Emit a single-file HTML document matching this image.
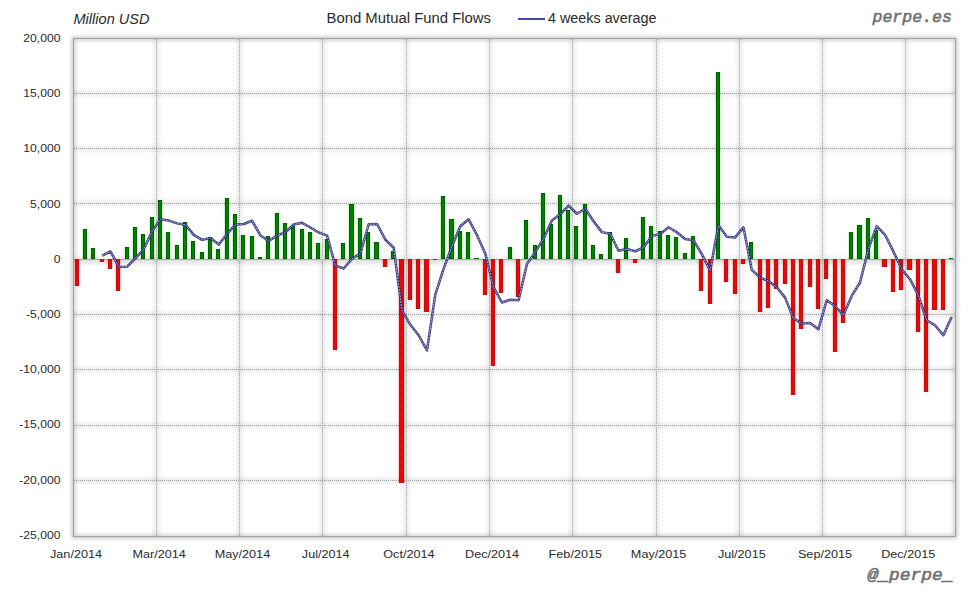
<!DOCTYPE html>
<html><head><meta charset="utf-8"><style>
html,body{margin:0;padding:0;background:#fff;width:980px;height:600px;overflow:hidden}
svg{display:block}
.ax{font-family:"Liberation Sans",sans-serif;font-size:11.5px;fill:#2a2a2a}
.go{fill:#006000}
.gi{fill:#038003}
.gh{fill:#00c000;fill-opacity:0.13}
.gh2{fill:#00c000;fill-opacity:0.04}
.rh{fill:#ff0000;fill-opacity:0.13}
.rh2{fill:#ff0000;fill-opacity:0.05}
.ro{fill:#c01010}
.ri{fill:#ee0606}
.gd{stroke:#a2a2a2;stroke-width:1;stroke-dasharray:1 1}
.t{font-family:"Liberation Sans",sans-serif;font-size:14px;fill:#2a2a2a}
.wm{font-family:"Liberation Mono",monospace;font-style:italic;font-size:16.5px;fill:#707070;stroke:#707070;stroke-width:0.55}
</style></head><body>
<svg width="980" height="600" viewBox="0 0 980 600">
<defs>
<linearGradient id="hg" x1="0" y1="0" x2="0" y2="1"><stop offset="0" stop-color="#000" stop-opacity="0"/><stop offset="0.5" stop-color="#000" stop-opacity="0.075"/><stop offset="1" stop-color="#000" stop-opacity="0"/></linearGradient>
<linearGradient id="vg" x1="0" y1="0" x2="1" y2="0"><stop offset="0" stop-color="#000" stop-opacity="0"/><stop offset="0.5" stop-color="#000" stop-opacity="0.075"/><stop offset="1" stop-color="#000" stop-opacity="0"/></linearGradient>
<linearGradient id="zu" x1="0" y1="0" x2="0" y2="1"><stop offset="0" stop-color="#000" stop-opacity="0"/><stop offset="1" stop-color="#000" stop-opacity="0.06"/></linearGradient><linearGradient id="zd" x1="0" y1="0" x2="0" y2="1"><stop offset="0" stop-color="#000" stop-opacity="0.13"/><stop offset="1" stop-color="#000" stop-opacity="0"/></linearGradient>
<clipPath id="pc"><rect x="74" y="39" width="881" height="497"/></clipPath>
<filter id="sh" x="-5%" y="-5%" width="110%" height="110%"><feGaussianBlur stdDeviation="2.2"/></filter>
</defs>
<rect x="73.5" y="38.5" width="882" height="498" fill="none" stroke="#000" stroke-opacity="0.3" stroke-width="3" filter="url(#sh)"/>
<rect x="73" y="38" width="883" height="499" fill="#fff"/>
<rect x="73.5" y="38.5" width="882" height="498" fill="none" stroke="#000" stroke-opacity="0.25" stroke-width="3" filter="url(#sh)" clip-path="url(#pc)"/>
<rect x="74" y="88" width="881" height="11" fill="url(#hg)"/><rect x="74" y="143" width="881" height="11" fill="url(#hg)"/><rect x="74" y="198" width="881" height="11" fill="url(#hg)"/><rect x="74" y="309" width="881" height="11" fill="url(#hg)"/><rect x="74" y="364" width="881" height="11" fill="url(#hg)"/><rect x="74" y="420" width="881" height="11" fill="url(#hg)"/><rect x="74" y="475" width="881" height="11" fill="url(#hg)"/><rect x="151" y="39" width="11" height="497" fill="url(#vg)"/><rect x="234" y="39" width="11" height="497" fill="url(#vg)"/><rect x="317" y="39" width="11" height="497" fill="url(#vg)"/><rect x="401" y="39" width="11" height="497" fill="url(#vg)"/><rect x="484" y="39" width="11" height="497" fill="url(#vg)"/><rect x="567" y="39" width="11" height="497" fill="url(#vg)"/><rect x="651" y="39" width="11" height="497" fill="url(#vg)"/><rect x="734" y="39" width="11" height="497" fill="url(#vg)"/><rect x="817" y="39" width="11" height="497" fill="url(#vg)"/><rect x="900" y="39" width="11" height="497" fill="url(#vg)"/><rect x="74" y="253" width="881" height="6" fill="url(#zu)"/><rect x="74" y="260" width="881" height="7" fill="url(#zd)"/>
<line x1="74" y1="93.5" x2="927" y2="93.5" class="gd"/><line x1="927" y1="93.5" x2="955" y2="93.5" stroke="#c4c4c4" stroke-width="1"/><line x1="74" y1="148.5" x2="927" y2="148.5" class="gd"/><line x1="927" y1="148.5" x2="955" y2="148.5" stroke="#c4c4c4" stroke-width="1"/><line x1="74" y1="203.5" x2="927" y2="203.5" class="gd"/><line x1="927" y1="203.5" x2="955" y2="203.5" stroke="#c4c4c4" stroke-width="1"/><line x1="74" y1="314.5" x2="927" y2="314.5" class="gd"/><line x1="927" y1="314.5" x2="955" y2="314.5" stroke="#c4c4c4" stroke-width="1"/><line x1="74" y1="369.5" x2="927" y2="369.5" class="gd"/><line x1="927" y1="369.5" x2="955" y2="369.5" stroke="#c4c4c4" stroke-width="1"/><line x1="74" y1="425.5" x2="927" y2="425.5" class="gd"/><line x1="927" y1="425.5" x2="955" y2="425.5" stroke="#c4c4c4" stroke-width="1"/><line x1="74" y1="480.5" x2="927" y2="480.5" class="gd"/><line x1="927" y1="480.5" x2="955" y2="480.5" stroke="#c4c4c4" stroke-width="1"/><line x1="156.5" y1="39" x2="156.5" y2="536" class="gd"/><line x1="239.5" y1="39" x2="239.5" y2="536" class="gd"/><line x1="322.5" y1="39" x2="322.5" y2="536" class="gd"/><line x1="406.5" y1="39" x2="406.5" y2="536" class="gd"/><line x1="489.5" y1="39" x2="489.5" y2="536" class="gd"/><line x1="572.5" y1="39" x2="572.5" y2="536" class="gd"/><line x1="656.5" y1="39" x2="656.5" y2="536" class="gd"/><line x1="739.5" y1="39" x2="739.5" y2="536" class="gd"/><line x1="822.5" y1="39" x2="822.5" y2="536" class="gd"/><line x1="905.5" y1="39" x2="905.5" y2="536" class="gd"/>
<line x1="74" y1="259.5" x2="955" y2="259.5" stroke="#aaa" stroke-width="1"/>
<rect x="73" y="259" width="8" height="27" class="rh2"/><rect x="74" y="259" width="6" height="27" class="rh"/><rect x="81" y="229" width="8" height="30" class="gh2"/><rect x="82" y="229" width="6" height="30" class="gh"/><rect x="89" y="248" width="8" height="11" class="gh2"/><rect x="90" y="248" width="6" height="11" class="gh"/><rect x="98" y="259" width="8" height="3" class="rh2"/><rect x="99" y="259" width="6" height="3" class="rh"/><rect x="106" y="259" width="8" height="10" class="rh2"/><rect x="107" y="259" width="6" height="10" class="rh"/><rect x="114" y="259" width="8" height="32" class="rh2"/><rect x="115" y="259" width="6" height="32" class="rh"/><rect x="123" y="247" width="8" height="12" class="gh2"/><rect x="124" y="247" width="6" height="12" class="gh"/><rect x="131" y="227" width="8" height="32" class="gh2"/><rect x="132" y="227" width="6" height="32" class="gh"/><rect x="139" y="234" width="8" height="25" class="gh2"/><rect x="140" y="234" width="6" height="25" class="gh"/><rect x="148" y="217" width="8" height="42" class="gh2"/><rect x="149" y="217" width="6" height="42" class="gh"/><rect x="156" y="200" width="8" height="59" class="gh2"/><rect x="157" y="200" width="6" height="59" class="gh"/><rect x="164" y="232" width="8" height="27" class="gh2"/><rect x="165" y="232" width="6" height="27" class="gh"/><rect x="173" y="245" width="8" height="14" class="gh2"/><rect x="174" y="245" width="6" height="14" class="gh"/><rect x="181" y="222" width="8" height="37" class="gh2"/><rect x="182" y="222" width="6" height="37" class="gh"/><rect x="189" y="241" width="8" height="18" class="gh2"/><rect x="190" y="241" width="6" height="18" class="gh"/><rect x="198" y="252" width="8" height="7" class="gh2"/><rect x="199" y="252" width="6" height="7" class="gh"/><rect x="206" y="237" width="8" height="22" class="gh2"/><rect x="207" y="237" width="6" height="22" class="gh"/><rect x="214" y="249" width="8" height="10" class="gh2"/><rect x="215" y="249" width="6" height="10" class="gh"/><rect x="223" y="198" width="8" height="61" class="gh2"/><rect x="224" y="198" width="6" height="61" class="gh"/><rect x="231" y="214" width="8" height="45" class="gh2"/><rect x="232" y="214" width="6" height="45" class="gh"/><rect x="239" y="235" width="8" height="24" class="gh2"/><rect x="240" y="235" width="6" height="24" class="gh"/><rect x="248" y="236" width="8" height="23" class="gh2"/><rect x="249" y="236" width="6" height="23" class="gh"/><rect x="256" y="257" width="8" height="2" class="gh2"/><rect x="257" y="257" width="6" height="2" class="gh"/><rect x="264" y="236" width="8" height="23" class="gh2"/><rect x="265" y="236" width="6" height="23" class="gh"/><rect x="273" y="213" width="8" height="46" class="gh2"/><rect x="274" y="213" width="6" height="46" class="gh"/><rect x="281" y="223" width="8" height="36" class="gh2"/><rect x="282" y="223" width="6" height="36" class="gh"/><rect x="289" y="226" width="8" height="33" class="gh2"/><rect x="290" y="226" width="6" height="33" class="gh"/><rect x="298" y="229" width="8" height="30" class="gh2"/><rect x="299" y="229" width="6" height="30" class="gh"/><rect x="306" y="232" width="8" height="27" class="gh2"/><rect x="307" y="232" width="6" height="27" class="gh"/><rect x="314" y="243" width="8" height="16" class="gh2"/><rect x="315" y="243" width="6" height="16" class="gh"/><rect x="323" y="239" width="8" height="20" class="gh2"/><rect x="324" y="239" width="6" height="20" class="gh"/><rect x="331" y="259" width="8" height="91" class="rh2"/><rect x="332" y="259" width="6" height="91" class="rh"/><rect x="339" y="243" width="8" height="16" class="gh2"/><rect x="340" y="243" width="6" height="16" class="gh"/><rect x="347" y="204" width="9" height="55" class="gh2"/><rect x="348" y="204" width="7" height="55" class="gh"/><rect x="356" y="218" width="8" height="41" class="gh2"/><rect x="357" y="218" width="6" height="41" class="gh"/><rect x="364" y="232" width="8" height="27" class="gh2"/><rect x="365" y="232" width="6" height="27" class="gh"/><rect x="372" y="242" width="9" height="17" class="gh2"/><rect x="373" y="242" width="7" height="17" class="gh"/><rect x="381" y="259" width="8" height="8" class="rh2"/><rect x="382" y="259" width="6" height="8" class="rh"/><rect x="389" y="251" width="8" height="8" class="gh2"/><rect x="390" y="251" width="6" height="8" class="gh"/><rect x="397" y="259" width="9" height="224" class="rh2"/><rect x="398" y="259" width="7" height="224" class="rh"/><rect x="406" y="259" width="8" height="41" class="rh2"/><rect x="407" y="259" width="6" height="41" class="rh"/><rect x="414" y="259" width="8" height="50" class="rh2"/><rect x="415" y="259" width="6" height="50" class="rh"/><rect x="422" y="259" width="9" height="53" class="rh2"/><rect x="423" y="259" width="7" height="53" class="rh"/><rect x="431" y="259" width="8" height="1" class="rh2"/><rect x="432" y="259" width="6" height="1" class="rh"/><rect x="439" y="196" width="8" height="63" class="gh2"/><rect x="440" y="196" width="6" height="63" class="gh"/><rect x="447" y="219" width="9" height="40" class="gh2"/><rect x="448" y="219" width="7" height="40" class="gh"/><rect x="456" y="231" width="8" height="28" class="gh2"/><rect x="457" y="231" width="6" height="28" class="gh"/><rect x="464" y="232" width="8" height="27" class="gh2"/><rect x="465" y="232" width="6" height="27" class="gh"/><rect x="472" y="258" width="9" height="1" class="gh2"/><rect x="473" y="258" width="7" height="1" class="gh"/><rect x="481" y="259" width="8" height="36" class="rh2"/><rect x="482" y="259" width="6" height="36" class="rh"/><rect x="489" y="259" width="8" height="107" class="rh2"/><rect x="490" y="259" width="6" height="107" class="rh"/><rect x="497" y="259" width="8" height="34" class="rh2"/><rect x="498" y="259" width="6" height="34" class="rh"/><rect x="506" y="247" width="8" height="12" class="gh2"/><rect x="507" y="247" width="6" height="12" class="gh"/><rect x="514" y="259" width="8" height="38" class="rh2"/><rect x="515" y="259" width="6" height="38" class="rh"/><rect x="522" y="220" width="8" height="39" class="gh2"/><rect x="523" y="220" width="6" height="39" class="gh"/><rect x="531" y="245" width="8" height="14" class="gh2"/><rect x="532" y="245" width="6" height="14" class="gh"/><rect x="539" y="193" width="8" height="66" class="gh2"/><rect x="540" y="193" width="6" height="66" class="gh"/><rect x="547" y="224" width="8" height="35" class="gh2"/><rect x="548" y="224" width="6" height="35" class="gh"/><rect x="556" y="195" width="8" height="64" class="gh2"/><rect x="557" y="195" width="6" height="64" class="gh"/><rect x="564" y="210" width="8" height="49" class="gh2"/><rect x="565" y="210" width="6" height="49" class="gh"/><rect x="572" y="226" width="8" height="33" class="gh2"/><rect x="573" y="226" width="6" height="33" class="gh"/><rect x="581" y="204" width="8" height="55" class="gh2"/><rect x="582" y="204" width="6" height="55" class="gh"/><rect x="589" y="245" width="8" height="14" class="gh2"/><rect x="590" y="245" width="6" height="14" class="gh"/><rect x="597" y="254" width="8" height="5" class="gh2"/><rect x="598" y="254" width="6" height="5" class="gh"/><rect x="606" y="232" width="8" height="27" class="gh2"/><rect x="607" y="232" width="6" height="27" class="gh"/><rect x="614" y="259" width="8" height="14" class="rh2"/><rect x="615" y="259" width="6" height="14" class="rh"/><rect x="622" y="238" width="8" height="21" class="gh2"/><rect x="623" y="238" width="6" height="21" class="gh"/><rect x="631" y="259" width="8" height="4" class="rh2"/><rect x="632" y="259" width="6" height="4" class="rh"/><rect x="639" y="217" width="8" height="42" class="gh2"/><rect x="640" y="217" width="6" height="42" class="gh"/><rect x="647" y="226" width="8" height="33" class="gh2"/><rect x="648" y="226" width="6" height="33" class="gh"/><rect x="656" y="231" width="8" height="28" class="gh2"/><rect x="657" y="231" width="6" height="28" class="gh"/><rect x="664" y="235" width="8" height="24" class="gh2"/><rect x="665" y="235" width="6" height="24" class="gh"/><rect x="672" y="237" width="8" height="22" class="gh2"/><rect x="673" y="237" width="6" height="22" class="gh"/><rect x="681" y="253" width="8" height="6" class="gh2"/><rect x="682" y="253" width="6" height="6" class="gh"/><rect x="689" y="236" width="8" height="23" class="gh2"/><rect x="690" y="236" width="6" height="23" class="gh"/><rect x="697" y="259" width="8" height="32" class="rh2"/><rect x="698" y="259" width="6" height="32" class="rh"/><rect x="706" y="259" width="8" height="45" class="rh2"/><rect x="707" y="259" width="6" height="45" class="rh"/><rect x="714" y="72" width="8" height="187" class="gh2"/><rect x="715" y="72" width="6" height="187" class="gh"/><rect x="722" y="259" width="8" height="23" class="rh2"/><rect x="723" y="259" width="6" height="23" class="rh"/><rect x="731" y="259" width="8" height="35" class="rh2"/><rect x="732" y="259" width="6" height="35" class="rh"/><rect x="739" y="259" width="8" height="5" class="rh2"/><rect x="740" y="259" width="6" height="5" class="rh"/><rect x="747" y="242" width="8" height="17" class="gh2"/><rect x="748" y="242" width="6" height="17" class="gh"/><rect x="756" y="259" width="8" height="53" class="rh2"/><rect x="757" y="259" width="6" height="53" class="rh"/><rect x="764" y="259" width="8" height="49" class="rh2"/><rect x="765" y="259" width="6" height="49" class="rh"/><rect x="772" y="259" width="8" height="30" class="rh2"/><rect x="773" y="259" width="6" height="30" class="rh"/><rect x="781" y="259" width="8" height="25" class="rh2"/><rect x="782" y="259" width="6" height="25" class="rh"/><rect x="789" y="259" width="8" height="136" class="rh2"/><rect x="790" y="259" width="6" height="136" class="rh"/><rect x="797" y="259" width="8" height="70" class="rh2"/><rect x="798" y="259" width="6" height="70" class="rh"/><rect x="806" y="259" width="8" height="28" class="rh2"/><rect x="807" y="259" width="6" height="28" class="rh"/><rect x="814" y="259" width="8" height="50" class="rh2"/><rect x="815" y="259" width="6" height="50" class="rh"/><rect x="822" y="259" width="8" height="20" class="rh2"/><rect x="823" y="259" width="6" height="20" class="rh"/><rect x="831" y="259" width="8" height="93" class="rh2"/><rect x="832" y="259" width="6" height="93" class="rh"/><rect x="839" y="259" width="8" height="64" class="rh2"/><rect x="840" y="259" width="6" height="64" class="rh"/><rect x="847" y="232" width="8" height="27" class="gh2"/><rect x="848" y="232" width="6" height="27" class="gh"/><rect x="855" y="225" width="9" height="34" class="gh2"/><rect x="856" y="225" width="7" height="34" class="gh"/><rect x="864" y="218" width="8" height="41" class="gh2"/><rect x="865" y="218" width="6" height="41" class="gh"/><rect x="872" y="230" width="8" height="29" class="gh2"/><rect x="873" y="230" width="6" height="29" class="gh"/><rect x="880" y="259" width="9" height="8" class="rh2"/><rect x="881" y="259" width="7" height="8" class="rh"/><rect x="889" y="259" width="8" height="33" class="rh2"/><rect x="890" y="259" width="6" height="33" class="rh"/><rect x="897" y="259" width="8" height="31" class="rh2"/><rect x="898" y="259" width="6" height="31" class="rh"/><rect x="905" y="259" width="9" height="11" class="rh2"/><rect x="906" y="259" width="7" height="11" class="rh"/><rect x="914" y="259" width="8" height="73" class="rh2"/><rect x="915" y="259" width="6" height="73" class="rh"/><rect x="922" y="259" width="8" height="133" class="rh2"/><rect x="923" y="259" width="6" height="133" class="rh"/><rect x="930" y="259" width="9" height="51" class="rh2"/><rect x="931" y="259" width="7" height="51" class="rh"/><rect x="939" y="259" width="8" height="51" class="rh2"/><rect x="940" y="259" width="6" height="51" class="rh"/><rect x="947" y="258" width="8" height="1" class="gh2"/><rect x="948" y="258" width="6" height="1" class="gh"/>
<rect x="75" y="259" width="4" height="27" class="ro"/><rect x="76" y="260" width="2" height="25" class="ri"/><rect x="83" y="229" width="4" height="30" class="go"/><rect x="84" y="230" width="2" height="28" class="gi"/><rect x="91" y="248" width="4" height="11" class="go"/><rect x="92" y="249" width="2" height="9" class="gi"/><rect x="100" y="259" width="4" height="3" class="ro"/><rect x="101" y="260" width="2" height="1" class="ri"/><rect x="108" y="259" width="4" height="10" class="ro"/><rect x="109" y="260" width="2" height="8" class="ri"/><rect x="116" y="259" width="4" height="32" class="ro"/><rect x="117" y="260" width="2" height="30" class="ri"/><rect x="125" y="247" width="4" height="12" class="go"/><rect x="126" y="248" width="2" height="10" class="gi"/><rect x="133" y="227" width="4" height="32" class="go"/><rect x="134" y="228" width="2" height="30" class="gi"/><rect x="141" y="234" width="4" height="25" class="go"/><rect x="142" y="235" width="2" height="23" class="gi"/><rect x="150" y="217" width="4" height="42" class="go"/><rect x="151" y="218" width="2" height="40" class="gi"/><rect x="158" y="200" width="4" height="59" class="go"/><rect x="159" y="201" width="2" height="57" class="gi"/><rect x="166" y="232" width="4" height="27" class="go"/><rect x="167" y="233" width="2" height="25" class="gi"/><rect x="175" y="245" width="4" height="14" class="go"/><rect x="176" y="246" width="2" height="12" class="gi"/><rect x="183" y="222" width="4" height="37" class="go"/><rect x="184" y="223" width="2" height="35" class="gi"/><rect x="191" y="241" width="4" height="18" class="go"/><rect x="192" y="242" width="2" height="16" class="gi"/><rect x="200" y="252" width="4" height="7" class="go"/><rect x="201" y="253" width="2" height="5" class="gi"/><rect x="208" y="237" width="4" height="22" class="go"/><rect x="209" y="238" width="2" height="20" class="gi"/><rect x="216" y="249" width="4" height="10" class="go"/><rect x="217" y="250" width="2" height="8" class="gi"/><rect x="225" y="198" width="4" height="61" class="go"/><rect x="226" y="199" width="2" height="59" class="gi"/><rect x="233" y="214" width="4" height="45" class="go"/><rect x="234" y="215" width="2" height="43" class="gi"/><rect x="241" y="235" width="4" height="24" class="go"/><rect x="242" y="236" width="2" height="22" class="gi"/><rect x="250" y="236" width="4" height="23" class="go"/><rect x="251" y="237" width="2" height="21" class="gi"/><rect x="258" y="257" width="4" height="2" class="go"/><rect x="266" y="236" width="4" height="23" class="go"/><rect x="267" y="237" width="2" height="21" class="gi"/><rect x="275" y="213" width="4" height="46" class="go"/><rect x="276" y="214" width="2" height="44" class="gi"/><rect x="283" y="223" width="4" height="36" class="go"/><rect x="284" y="224" width="2" height="34" class="gi"/><rect x="291" y="226" width="4" height="33" class="go"/><rect x="292" y="227" width="2" height="31" class="gi"/><rect x="300" y="229" width="4" height="30" class="go"/><rect x="301" y="230" width="2" height="28" class="gi"/><rect x="308" y="232" width="4" height="27" class="go"/><rect x="309" y="233" width="2" height="25" class="gi"/><rect x="316" y="243" width="4" height="16" class="go"/><rect x="317" y="244" width="2" height="14" class="gi"/><rect x="325" y="239" width="4" height="20" class="go"/><rect x="326" y="240" width="2" height="18" class="gi"/><rect x="333" y="259" width="4" height="91" class="ro"/><rect x="334" y="260" width="2" height="89" class="ri"/><rect x="341" y="243" width="4" height="16" class="go"/><rect x="342" y="244" width="2" height="14" class="gi"/><rect x="349" y="204" width="5" height="55" class="go"/><rect x="350" y="205" width="3" height="53" class="gi"/><rect x="358" y="218" width="4" height="41" class="go"/><rect x="359" y="219" width="2" height="39" class="gi"/><rect x="366" y="232" width="4" height="27" class="go"/><rect x="367" y="233" width="2" height="25" class="gi"/><rect x="374" y="242" width="5" height="17" class="go"/><rect x="375" y="243" width="3" height="15" class="gi"/><rect x="383" y="259" width="4" height="8" class="ro"/><rect x="384" y="260" width="2" height="6" class="ri"/><rect x="391" y="251" width="4" height="8" class="go"/><rect x="392" y="252" width="2" height="6" class="gi"/><rect x="399" y="259" width="5" height="224" class="ro"/><rect x="400" y="260" width="3" height="222" class="ri"/><rect x="408" y="259" width="4" height="41" class="ro"/><rect x="409" y="260" width="2" height="39" class="ri"/><rect x="416" y="259" width="4" height="50" class="ro"/><rect x="417" y="260" width="2" height="48" class="ri"/><rect x="424" y="259" width="5" height="53" class="ro"/><rect x="425" y="260" width="3" height="51" class="ri"/><rect x="433" y="259" width="4" height="1" class="ro"/><rect x="441" y="196" width="4" height="63" class="go"/><rect x="442" y="197" width="2" height="61" class="gi"/><rect x="449" y="219" width="5" height="40" class="go"/><rect x="450" y="220" width="3" height="38" class="gi"/><rect x="458" y="231" width="4" height="28" class="go"/><rect x="459" y="232" width="2" height="26" class="gi"/><rect x="466" y="232" width="4" height="27" class="go"/><rect x="467" y="233" width="2" height="25" class="gi"/><rect x="474" y="258" width="5" height="1" class="go"/><rect x="483" y="259" width="4" height="36" class="ro"/><rect x="484" y="260" width="2" height="34" class="ri"/><rect x="491" y="259" width="4" height="107" class="ro"/><rect x="492" y="260" width="2" height="105" class="ri"/><rect x="499" y="259" width="4" height="34" class="ro"/><rect x="500" y="260" width="2" height="32" class="ri"/><rect x="508" y="247" width="4" height="12" class="go"/><rect x="509" y="248" width="2" height="10" class="gi"/><rect x="516" y="259" width="4" height="38" class="ro"/><rect x="517" y="260" width="2" height="36" class="ri"/><rect x="524" y="220" width="4" height="39" class="go"/><rect x="525" y="221" width="2" height="37" class="gi"/><rect x="533" y="245" width="4" height="14" class="go"/><rect x="534" y="246" width="2" height="12" class="gi"/><rect x="541" y="193" width="4" height="66" class="go"/><rect x="542" y="194" width="2" height="64" class="gi"/><rect x="549" y="224" width="4" height="35" class="go"/><rect x="550" y="225" width="2" height="33" class="gi"/><rect x="558" y="195" width="4" height="64" class="go"/><rect x="559" y="196" width="2" height="62" class="gi"/><rect x="566" y="210" width="4" height="49" class="go"/><rect x="567" y="211" width="2" height="47" class="gi"/><rect x="574" y="226" width="4" height="33" class="go"/><rect x="575" y="227" width="2" height="31" class="gi"/><rect x="583" y="204" width="4" height="55" class="go"/><rect x="584" y="205" width="2" height="53" class="gi"/><rect x="591" y="245" width="4" height="14" class="go"/><rect x="592" y="246" width="2" height="12" class="gi"/><rect x="599" y="254" width="4" height="5" class="go"/><rect x="600" y="255" width="2" height="3" class="gi"/><rect x="608" y="232" width="4" height="27" class="go"/><rect x="609" y="233" width="2" height="25" class="gi"/><rect x="616" y="259" width="4" height="14" class="ro"/><rect x="617" y="260" width="2" height="12" class="ri"/><rect x="624" y="238" width="4" height="21" class="go"/><rect x="625" y="239" width="2" height="19" class="gi"/><rect x="633" y="259" width="4" height="4" class="ro"/><rect x="634" y="260" width="2" height="2" class="ri"/><rect x="641" y="217" width="4" height="42" class="go"/><rect x="642" y="218" width="2" height="40" class="gi"/><rect x="649" y="226" width="4" height="33" class="go"/><rect x="650" y="227" width="2" height="31" class="gi"/><rect x="658" y="231" width="4" height="28" class="go"/><rect x="659" y="232" width="2" height="26" class="gi"/><rect x="666" y="235" width="4" height="24" class="go"/><rect x="667" y="236" width="2" height="22" class="gi"/><rect x="674" y="237" width="4" height="22" class="go"/><rect x="675" y="238" width="2" height="20" class="gi"/><rect x="683" y="253" width="4" height="6" class="go"/><rect x="684" y="254" width="2" height="4" class="gi"/><rect x="691" y="236" width="4" height="23" class="go"/><rect x="692" y="237" width="2" height="21" class="gi"/><rect x="699" y="259" width="4" height="32" class="ro"/><rect x="700" y="260" width="2" height="30" class="ri"/><rect x="708" y="259" width="4" height="45" class="ro"/><rect x="709" y="260" width="2" height="43" class="ri"/><rect x="716" y="72" width="4" height="187" class="go"/><rect x="717" y="73" width="2" height="185" class="gi"/><rect x="724" y="259" width="4" height="23" class="ro"/><rect x="725" y="260" width="2" height="21" class="ri"/><rect x="733" y="259" width="4" height="35" class="ro"/><rect x="734" y="260" width="2" height="33" class="ri"/><rect x="741" y="259" width="4" height="5" class="ro"/><rect x="742" y="260" width="2" height="3" class="ri"/><rect x="749" y="242" width="4" height="17" class="go"/><rect x="750" y="243" width="2" height="15" class="gi"/><rect x="758" y="259" width="4" height="53" class="ro"/><rect x="759" y="260" width="2" height="51" class="ri"/><rect x="766" y="259" width="4" height="49" class="ro"/><rect x="767" y="260" width="2" height="47" class="ri"/><rect x="774" y="259" width="4" height="30" class="ro"/><rect x="775" y="260" width="2" height="28" class="ri"/><rect x="783" y="259" width="4" height="25" class="ro"/><rect x="784" y="260" width="2" height="23" class="ri"/><rect x="791" y="259" width="4" height="136" class="ro"/><rect x="792" y="260" width="2" height="134" class="ri"/><rect x="799" y="259" width="4" height="70" class="ro"/><rect x="800" y="260" width="2" height="68" class="ri"/><rect x="808" y="259" width="4" height="28" class="ro"/><rect x="809" y="260" width="2" height="26" class="ri"/><rect x="816" y="259" width="4" height="50" class="ro"/><rect x="817" y="260" width="2" height="48" class="ri"/><rect x="824" y="259" width="4" height="20" class="ro"/><rect x="825" y="260" width="2" height="18" class="ri"/><rect x="833" y="259" width="4" height="93" class="ro"/><rect x="834" y="260" width="2" height="91" class="ri"/><rect x="841" y="259" width="4" height="64" class="ro"/><rect x="842" y="260" width="2" height="62" class="ri"/><rect x="849" y="232" width="4" height="27" class="go"/><rect x="850" y="233" width="2" height="25" class="gi"/><rect x="857" y="225" width="5" height="34" class="go"/><rect x="858" y="226" width="3" height="32" class="gi"/><rect x="866" y="218" width="4" height="41" class="go"/><rect x="867" y="219" width="2" height="39" class="gi"/><rect x="874" y="230" width="4" height="29" class="go"/><rect x="875" y="231" width="2" height="27" class="gi"/><rect x="882" y="259" width="5" height="8" class="ro"/><rect x="883" y="260" width="3" height="6" class="ri"/><rect x="891" y="259" width="4" height="33" class="ro"/><rect x="892" y="260" width="2" height="31" class="ri"/><rect x="899" y="259" width="4" height="31" class="ro"/><rect x="900" y="260" width="2" height="29" class="ri"/><rect x="907" y="259" width="5" height="11" class="ro"/><rect x="908" y="260" width="3" height="9" class="ri"/><rect x="916" y="259" width="4" height="73" class="ro"/><rect x="917" y="260" width="2" height="71" class="ri"/><rect x="924" y="259" width="4" height="133" class="ro"/><rect x="925" y="260" width="2" height="131" class="ri"/><rect x="932" y="259" width="5" height="51" class="ro"/><rect x="933" y="260" width="3" height="49" class="ri"/><rect x="941" y="259" width="4" height="51" class="ro"/><rect x="942" y="260" width="2" height="49" class="ri"/><rect x="949" y="258" width="4" height="1" class="go"/>
<path d="M102.19,255.67 C102.19,255.67 110.52,251.45 110.52,251.45 C110.52,251.45 118.85,266.95 118.85,266.95 C118.85,266.95 127.18,266.70 127.18,266.70 C127.18,266.70 135.51,258.07 135.51,258.07 C135.51,258.07 143.83,249.34 143.83,249.34 C143.83,249.34 152.16,230.91 152.16,230.91 C152.16,230.91 160.49,219.29 160.49,219.29 C160.49,219.29 168.82,220.59 168.82,220.59 C168.82,220.59 177.15,223.39 177.15,223.39 C177.15,223.39 185.47,224.70 185.47,224.70 C185.47,224.70 193.80,234.90 193.80,234.90 C193.80,234.90 202.13,239.87 202.13,239.87 C202.13,239.87 210.46,237.92 210.46,237.92 C210.46,237.92 218.79,244.60 218.79,244.60 C218.79,244.60 227.11,233.92 227.11,233.92 C227.11,233.92 235.44,224.49 235.44,224.49 C235.44,224.49 243.77,223.99 243.77,223.99 C243.77,223.99 252.10,220.78 252.10,220.78 C252.10,220.78 260.43,235.44 260.43,235.44 C260.43,235.44 268.75,240.90 268.75,240.90 C268.75,240.90 277.08,235.44 277.08,235.44 C277.08,235.44 285.41,232.23 285.41,232.23 C285.41,232.23 293.74,224.52 293.74,224.52 C293.74,224.52 302.07,222.80 302.07,222.80 C302.07,222.80 310.39,227.50 310.39,227.50 C310.39,227.50 318.72,232.46 318.72,232.46 C318.72,232.46 327.05,235.70 327.05,235.70 C327.05,235.70 335.38,265.75 335.38,265.75 C335.38,265.75 343.71,268.50 343.71,268.50 C343.71,268.50 352.03,258.80 352.03,258.80 C352.03,258.80 360.36,253.57 360.36,253.57 C360.36,253.57 368.69,224.25 368.69,224.25 C368.69,224.25 377.02,223.99 377.02,223.99 C377.02,223.99 385.35,239.54 385.35,239.54 C385.35,239.54 393.67,247.75 393.67,247.75 C393.67,247.75 402.00,310.31 402.00,310.31 C402.00,310.31 410.33,324.75 410.33,324.75 C410.33,324.75 418.66,335.23 418.66,335.23 C418.66,335.23 426.99,350.40 426.99,350.40 C426.99,350.40 435.31,294.69 435.31,294.69 C435.31,294.69 443.64,268.61 443.64,268.61 C443.64,268.61 451.97,246.31 451.97,246.31 C451.97,246.31 460.30,226.18 460.30,226.18 C460.30,226.18 468.63,219.32 468.63,219.32 C468.63,219.32 476.95,234.97 476.95,234.97 C476.95,234.97 485.28,253.85 485.28,253.85 C485.28,253.85 493.61,287.37 493.61,287.37 C493.61,287.37 501.94,302.50 501.94,302.50 C501.94,302.50 510.27,299.78 510.27,299.78 C510.27,299.78 518.59,300.34 518.59,300.34 C518.59,300.34 526.92,264.08 526.92,264.08 C526.92,264.08 535.25,252.20 535.25,252.20 C535.25,252.20 543.58,238.74 543.58,238.74 C543.58,238.74 551.91,220.53 551.91,220.53 C551.91,220.53 560.23,214.28 560.23,214.28 C560.23,214.28 568.56,205.58 568.56,205.58 C568.56,205.58 576.89,213.74 576.89,213.74 C576.89,213.74 585.22,208.74 585.22,208.74 C585.22,208.74 593.55,221.19 593.55,221.19 C593.55,221.19 601.87,232.13 601.87,232.13 C601.87,232.13 610.20,233.70 610.20,233.70 C610.20,233.70 618.53,250.81 618.53,250.81 C618.53,250.81 626.86,249.07 626.86,249.07 C626.86,249.07 635.19,251.26 635.19,251.26 C635.19,251.26 643.51,247.50 643.51,247.50 C643.51,247.50 651.84,235.90 651.84,235.90 C651.84,235.90 660.17,234.20 660.17,234.20 C660.17,234.20 668.50,227.30 668.50,227.30 C668.50,227.30 676.83,232.26 676.83,232.26 C676.83,232.26 685.15,239.02 685.15,239.02 C685.15,239.02 693.48,240.25 693.48,240.25 C693.48,240.25 701.81,254.10 701.81,254.10 C701.81,254.10 710.14,270.69 710.14,270.69 C710.14,270.69 718.47,225.32 718.47,225.32 C718.47,225.32 726.79,236.65 726.79,236.65 C726.79,236.65 735.12,237.38 735.12,237.38 C735.12,237.38 743.45,227.36 743.45,227.36 C743.45,227.36 751.78,269.94 751.78,269.94 C751.78,269.94 760.11,277.49 760.11,277.49 C760.11,277.49 768.43,281.05 768.43,281.05 C768.43,281.05 776.76,287.33 776.76,287.33 C776.76,287.33 785.09,297.63 785.09,297.63 C785.09,297.63 793.42,318.37 793.42,318.37 C793.42,318.37 801.75,323.53 801.75,323.53 C801.75,323.53 810.07,322.96 810.07,322.96 C810.07,322.96 818.40,329.27 818.40,329.27 C818.40,329.27 826.73,300.26 826.73,300.26 C826.73,300.26 835.06,306.00 835.06,306.00 C835.06,306.00 843.39,315.08 843.39,315.08 C843.39,315.08 851.71,295.95 851.71,295.95 C851.71,295.95 860.04,282.53 860.04,282.53 C860.04,282.53 868.37,249.20 868.37,249.20 C868.37,249.20 876.70,226.11 876.70,226.11 C876.70,226.11 885.03,234.78 885.03,234.78 C885.03,234.78 893.35,251.43 893.35,251.43 C893.35,251.43 901.68,269.33 901.68,269.33 C901.68,269.33 910.01,279.19 910.01,279.19 C910.01,279.19 918.34,295.33 918.34,295.33 C918.34,295.33 926.67,320.26 926.67,320.26 C926.67,320.26 934.99,325.27 934.99,325.27 C934.99,325.27 943.32,335.27 943.32,335.27 C943.32,335.27 951.65,316.97 951.65,316.97" fill="none" stroke="#26266c" stroke-opacity="0.9" stroke-width="2.5" stroke-linejoin="round"/>
<path d="M102.19,255.67 C102.19,255.67 110.52,251.45 110.52,251.45 C110.52,251.45 118.85,266.95 118.85,266.95 C118.85,266.95 127.18,266.70 127.18,266.70 C127.18,266.70 135.51,258.07 135.51,258.07 C135.51,258.07 143.83,249.34 143.83,249.34 C143.83,249.34 152.16,230.91 152.16,230.91 C152.16,230.91 160.49,219.29 160.49,219.29 C160.49,219.29 168.82,220.59 168.82,220.59 C168.82,220.59 177.15,223.39 177.15,223.39 C177.15,223.39 185.47,224.70 185.47,224.70 C185.47,224.70 193.80,234.90 193.80,234.90 C193.80,234.90 202.13,239.87 202.13,239.87 C202.13,239.87 210.46,237.92 210.46,237.92 C210.46,237.92 218.79,244.60 218.79,244.60 C218.79,244.60 227.11,233.92 227.11,233.92 C227.11,233.92 235.44,224.49 235.44,224.49 C235.44,224.49 243.77,223.99 243.77,223.99 C243.77,223.99 252.10,220.78 252.10,220.78 C252.10,220.78 260.43,235.44 260.43,235.44 C260.43,235.44 268.75,240.90 268.75,240.90 C268.75,240.90 277.08,235.44 277.08,235.44 C277.08,235.44 285.41,232.23 285.41,232.23 C285.41,232.23 293.74,224.52 293.74,224.52 C293.74,224.52 302.07,222.80 302.07,222.80 C302.07,222.80 310.39,227.50 310.39,227.50 C310.39,227.50 318.72,232.46 318.72,232.46 C318.72,232.46 327.05,235.70 327.05,235.70 C327.05,235.70 335.38,265.75 335.38,265.75 C335.38,265.75 343.71,268.50 343.71,268.50 C343.71,268.50 352.03,258.80 352.03,258.80 C352.03,258.80 360.36,253.57 360.36,253.57 C360.36,253.57 368.69,224.25 368.69,224.25 C368.69,224.25 377.02,223.99 377.02,223.99 C377.02,223.99 385.35,239.54 385.35,239.54 C385.35,239.54 393.67,247.75 393.67,247.75 C393.67,247.75 402.00,310.31 402.00,310.31 C402.00,310.31 410.33,324.75 410.33,324.75 C410.33,324.75 418.66,335.23 418.66,335.23 C418.66,335.23 426.99,350.40 426.99,350.40 C426.99,350.40 435.31,294.69 435.31,294.69 C435.31,294.69 443.64,268.61 443.64,268.61 C443.64,268.61 451.97,246.31 451.97,246.31 C451.97,246.31 460.30,226.18 460.30,226.18 C460.30,226.18 468.63,219.32 468.63,219.32 C468.63,219.32 476.95,234.97 476.95,234.97 C476.95,234.97 485.28,253.85 485.28,253.85 C485.28,253.85 493.61,287.37 493.61,287.37 C493.61,287.37 501.94,302.50 501.94,302.50 C501.94,302.50 510.27,299.78 510.27,299.78 C510.27,299.78 518.59,300.34 518.59,300.34 C518.59,300.34 526.92,264.08 526.92,264.08 C526.92,264.08 535.25,252.20 535.25,252.20 C535.25,252.20 543.58,238.74 543.58,238.74 C543.58,238.74 551.91,220.53 551.91,220.53 C551.91,220.53 560.23,214.28 560.23,214.28 C560.23,214.28 568.56,205.58 568.56,205.58 C568.56,205.58 576.89,213.74 576.89,213.74 C576.89,213.74 585.22,208.74 585.22,208.74 C585.22,208.74 593.55,221.19 593.55,221.19 C593.55,221.19 601.87,232.13 601.87,232.13 C601.87,232.13 610.20,233.70 610.20,233.70 C610.20,233.70 618.53,250.81 618.53,250.81 C618.53,250.81 626.86,249.07 626.86,249.07 C626.86,249.07 635.19,251.26 635.19,251.26 C635.19,251.26 643.51,247.50 643.51,247.50 C643.51,247.50 651.84,235.90 651.84,235.90 C651.84,235.90 660.17,234.20 660.17,234.20 C660.17,234.20 668.50,227.30 668.50,227.30 C668.50,227.30 676.83,232.26 676.83,232.26 C676.83,232.26 685.15,239.02 685.15,239.02 C685.15,239.02 693.48,240.25 693.48,240.25 C693.48,240.25 701.81,254.10 701.81,254.10 C701.81,254.10 710.14,270.69 710.14,270.69 C710.14,270.69 718.47,225.32 718.47,225.32 C718.47,225.32 726.79,236.65 726.79,236.65 C726.79,236.65 735.12,237.38 735.12,237.38 C735.12,237.38 743.45,227.36 743.45,227.36 C743.45,227.36 751.78,269.94 751.78,269.94 C751.78,269.94 760.11,277.49 760.11,277.49 C760.11,277.49 768.43,281.05 768.43,281.05 C768.43,281.05 776.76,287.33 776.76,287.33 C776.76,287.33 785.09,297.63 785.09,297.63 C785.09,297.63 793.42,318.37 793.42,318.37 C793.42,318.37 801.75,323.53 801.75,323.53 C801.75,323.53 810.07,322.96 810.07,322.96 C810.07,322.96 818.40,329.27 818.40,329.27 C818.40,329.27 826.73,300.26 826.73,300.26 C826.73,300.26 835.06,306.00 835.06,306.00 C835.06,306.00 843.39,315.08 843.39,315.08 C843.39,315.08 851.71,295.95 851.71,295.95 C851.71,295.95 860.04,282.53 860.04,282.53 C860.04,282.53 868.37,249.20 868.37,249.20 C868.37,249.20 876.70,226.11 876.70,226.11 C876.70,226.11 885.03,234.78 885.03,234.78 C885.03,234.78 893.35,251.43 893.35,251.43 C893.35,251.43 901.68,269.33 901.68,269.33 C901.68,269.33 910.01,279.19 910.01,279.19 C910.01,279.19 918.34,295.33 918.34,295.33 C918.34,295.33 926.67,320.26 926.67,320.26 C926.67,320.26 934.99,325.27 934.99,325.27 C934.99,325.27 943.32,335.27 943.32,335.27 C943.32,335.27 951.65,316.97 951.65,316.97" fill="none" stroke="#b4b4ee" stroke-opacity="0.95" stroke-width="1.0" stroke-dasharray="2 1" stroke-linejoin="round"/>
<rect x="73.5" y="38.5" width="882" height="498" fill="none" stroke="#a0a0a0" stroke-width="1"/>
<text transform="translate(60.5,41.9) scale(1.06,1)" text-anchor="end" class="ax">20,000</text><text transform="translate(60.5,97.1) scale(1.06,1)" text-anchor="end" class="ax">15,000</text><text transform="translate(60.5,152.3) scale(1.06,1)" text-anchor="end" class="ax">10,000</text><text transform="translate(60.5,207.6) scale(1.06,1)" text-anchor="end" class="ax">5,000</text><text transform="translate(60.5,262.8) scale(1.06,1)" text-anchor="end" class="ax">0</text><text transform="translate(60.5,318.0) scale(1.06,1)" text-anchor="end" class="ax">-5,000</text><text transform="translate(60.5,373.2) scale(1.06,1)" text-anchor="end" class="ax">-10,000</text><text transform="translate(60.5,428.4) scale(1.06,1)" text-anchor="end" class="ax">-15,000</text><text transform="translate(60.5,483.7) scale(1.06,1)" text-anchor="end" class="ax">-20,000</text><text transform="translate(60.5,538.9) scale(1.06,1)" text-anchor="end" class="ax">-25,000</text>
<text transform="translate(76.0,557.6) scale(1.10,1)" text-anchor="middle" class="ax">Jan/2014</text><text transform="translate(159.2,557.6) scale(1.10,1)" text-anchor="middle" class="ax">Mar/2014</text><text transform="translate(242.4,557.6) scale(1.10,1)" text-anchor="middle" class="ax">May/2014</text><text transform="translate(325.7,557.6) scale(1.10,1)" text-anchor="middle" class="ax">Jul/2014</text><text transform="translate(408.9,557.6) scale(1.10,1)" text-anchor="middle" class="ax">Oct/2014</text><text transform="translate(492.1,557.6) scale(1.10,1)" text-anchor="middle" class="ax">Dec/2014</text><text transform="translate(575.3,557.6) scale(1.10,1)" text-anchor="middle" class="ax">Feb/2015</text><text transform="translate(658.6,557.6) scale(1.10,1)" text-anchor="middle" class="ax">May/2015</text><text transform="translate(741.8,557.6) scale(1.10,1)" text-anchor="middle" class="ax">Jul/2015</text><text transform="translate(825.0,557.6) scale(1.10,1)" text-anchor="middle" class="ax">Sep/2015</text><text transform="translate(908.2,557.6) scale(1.10,1)" text-anchor="middle" class="ax">Dec/2015</text>
<text x="73.5" y="23.5" class="t" font-style="italic" textLength="76" lengthAdjust="spacingAndGlyphs">Million USD</text>
<text x="326.5" y="23" class="t" textLength="164.5" lengthAdjust="spacingAndGlyphs">Bond Mutual Fund Flows</text>
<line x1="518" y1="19" x2="545" y2="19" stroke="#4848a0" stroke-width="2"/>
<text x="548" y="22.7" class="t" textLength="108.5" lengthAdjust="spacingAndGlyphs">4 weeks average</text>
<text x="872.5" y="21.5" class="wm" textLength="79.5" lengthAdjust="spacingAndGlyphs">perpe.es</text>
<text x="867.5" y="579.5" class="wm" textLength="86" lengthAdjust="spacingAndGlyphs">@_perpe_</text>
</svg>
</body></html>
